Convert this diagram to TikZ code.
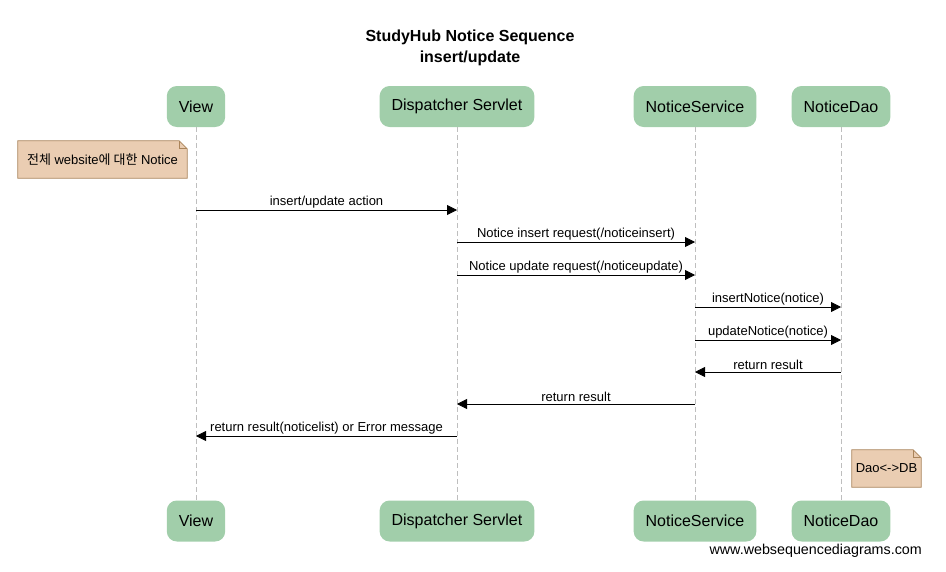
\documentclass[tikz,border=0pt]{standalone}
\usepackage{fontspec}
\setmainfont{Liberation Sans}
\newfontfamily\krfont{Noto Sans CJK KR}
\usetikzlibrary{arrows.meta,backgrounds}
\definecolor{actorgreen}{RGB}{161,206,170}
\definecolor{notefill}{RGB}{234,205,178}
\definecolor{noteline}{RGB}{170,132,90}
\definecolor{lifegray}{RGB}{190,190,190}

\begin{document}
\begin{tikzpicture}[x=1pt,y=-1pt,
    actor/.style={fill=actorgreen, rounded corners=10pt, minimum height=41pt,
      inner xsep=12pt, font=\fontsize{16}{19}\selectfont},
    life/.style={draw=lifegray, dash pattern=on 5pt off 3pt},
    msg/.style={-{Triangle[length=10pt,width=10pt]}, line width=0.8pt},
    lbl/.style={above, inner sep=1.5pt, font=\fontsize{13}{15}\selectfont},
    notebox/.style={minimum height=37pt, inner sep=0pt, font=\fontsize{13}{15}\selectfont},
    notefold/.style={fill=notefill, draw=noteline, line width=0.8pt}]

    \useasboundingbox (0,0) rectangle (946,571);

    \node[align=center, font=\bfseries\fontsize{16}{21}\selectfont] (title) at (470,48)
        {StudyHub Notice Sequence\\insert/update};

    \node[actor] (view) at (196,106.5) {View};
    \node[actor] (disp) at (457,106.5) {Dispatcher Servlet};
    \node[actor] (serv) at (695,106.5) {NoticeService};
    \node[actor] (dao) at (841,106.5) {NoticeDao};
    \node[actor] (viewB) at (196,521) {View};
    \node[actor] (dispB) at (457,521) {Dispatcher Servlet};
    \node[actor] (servB) at (695,521) {NoticeService};
    \node[actor] (daoB) at (841,521) {NoticeDao};

    \draw[life] (view) -- (viewB);
    \draw[life] (disp) -- (dispB);
    \draw[life] (serv) -- (servB);
    \draw[life] (dao) -- (daoB);

    \node[notebox, minimum width=169pt] (note1) at (102.5,159.5)
        {{\krfont 전체} website{\krfont 에 대한} Notice};
    \node[notebox, minimum width=69pt] (note2) at (886.5,468.5) {Dao<->DB};
    \begin{scope}[on background layer]
        \foreach \n in {note1,note2} {
            \draw[notefold] (\n.south west) -- (\n.north west)
                -- ([xshift=-8pt]\n.north east) -- ([yshift=-8pt]\n.north east)
                -- (\n.south east) -- cycle;
            \draw[noteline, line width=0.8pt] ([xshift=-8pt]\n.north east)
                -- ([xshift=-8pt,yshift=-8pt]\n.north east) -- ([yshift=-8pt]\n.north east);
        }
    \end{scope}

    \draw[msg] (view |- 0,210) -- node[lbl] {insert/update action} (disp |- 0,210);
    \draw[msg] (disp |- 0,242) -- node[lbl] {Notice insert request(/noticeinsert)} (serv |- 0,242);
    \draw[msg] (disp |- 0,275) -- node[lbl] {Notice update request(/noticeupdate)} (serv |- 0,275);
    \draw[msg] (serv |- 0,307) -- node[lbl] {insertNotice(notice)} (dao |- 0,307);
    \draw[msg] (serv |- 0,340) -- node[lbl] {updateNotice(notice)} (dao |- 0,340);
    \draw[msg] (dao |- 0,372) -- node[lbl] {return result} (serv |- 0,372);
    \draw[msg] (serv |- 0,404) -- node[lbl] {return result} (disp |- 0,404);
    \draw[msg] (disp |- 0,436) -- node[lbl] {return result(noticelist) or Error message} (view |- 0,436);

    \node[anchor=east, inner sep=0pt, font=\fontsize{14.3}{16}\selectfont] (wsd) at (922,551) {www.websequencediagrams.com};
\end{tikzpicture}
\end{document}
